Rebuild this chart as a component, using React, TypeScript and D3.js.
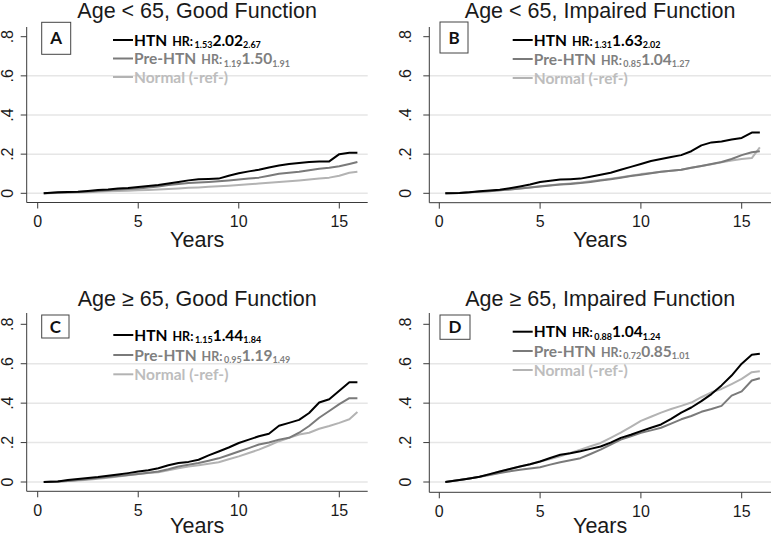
import React from 'react';
import * as d3 from 'd3';

// ---------- data ----------
const YEARS = [0.3, 1, 1.5, 2, 2.5, 3, 3.5, 4, 4.5, 5, 5.5, 6, 6.5, 7, 7.5, 8, 8.5, 9, 9.5, 10, 10.5, 11, 11.5, 12, 12.5, 13, 13.5, 14, 14.5, 15, 15.5, 15.9];
const X_TICKS = [0, 5, 10, 15];
const Y_TICKS = [0, 0.2, 0.4, 0.6, 0.8];
const Y_TICK_LABELS = ['0', '.2', '.4', '.6', '.8'];
const GRID_VALUES = [0, 0.2, 0.4, 0.6];
const GROUPS = ['HTN', 'Pre-HTN', 'Normal (-ref-)'];
const TITLES = ['Age < 65, Good Function', 'Age < 65, Impaired Function', 'Age \u2265 65, Good Function', 'Age \u2265 65, Impaired Function'];
const LETTERS = ['A', 'B', 'C', 'D'];

// hazard ratios [lower, estimate, upper]
const HR_A_HTN = ['1.53', '2.02', '2.67'];
const HR_A_PRE = ['1.19', '1.50', '1.91'];
const HR_B_HTN = ['1.31', '1.63', '2.02'];
const HR_B_PRE = ['0.85', '1.04', '1.27'];
const HR_C_HTN = ['1.15', '1.44', '1.84'];
const HR_C_PRE = ['0.95', '1.19', '1.49'];
const HR_D_HTN = ['0.88', '1.04', '1.24'];
const HR_D_PRE = ['0.72', '0.85', '1.01'];

// cumulative incidence
const A_HTN = [0, 0.005, 0.007, 0.008, 0.012, 0.017, 0.02, 0.025, 0.027, 0.032, 0.037, 0.042, 0.05, 0.058, 0.066, 0.072, 0.073, 0.075, 0.09, 0.102, 0.112, 0.12, 0.132, 0.142, 0.15, 0.155, 0.16, 0.163, 0.163, 0.2, 0.207, 0.207];
const A_PRE = [0, 0.003, 0.005, 0.007, 0.009, 0.012, 0.016, 0.02, 0.022, 0.025, 0.03, 0.035, 0.042, 0.048, 0.052, 0.055, 0.058, 0.062, 0.066, 0.07, 0.075, 0.08, 0.09, 0.1, 0.105, 0.11, 0.118, 0.125, 0.13, 0.138, 0.15, 0.16];
const A_NORM = [0, 0.002, 0.003, 0.004, 0.006, 0.008, 0.01, 0.012, 0.013, 0.015, 0.017, 0.02, 0.022, 0.025, 0.028, 0.03, 0.033, 0.036, 0.039, 0.042, 0.046, 0.05, 0.054, 0.058, 0.061, 0.065, 0.07, 0.075, 0.08, 0.09, 0.105, 0.11];

const B_HTN = [0, 0.002, 0.005, 0.01, 0.014, 0.018, 0.026, 0.035, 0.045, 0.058, 0.064, 0.07, 0.072, 0.075, 0.085, 0.095, 0.105, 0.12, 0.135, 0.15, 0.165, 0.175, 0.185, 0.195, 0.215, 0.245, 0.26, 0.265, 0.275, 0.283, 0.31, 0.31];
const B_PRE = [0, 0.002, 0.005, 0.008, 0.011, 0.015, 0.02, 0.025, 0.03, 0.035, 0.04, 0.045, 0.048, 0.052, 0.058, 0.065, 0.072, 0.08, 0.088, 0.095, 0.102, 0.11, 0.115, 0.12, 0.13, 0.14, 0.15, 0.16, 0.175, 0.195, 0.21, 0.215];
const B_NORM = [0, 0.002, 0.005, 0.008, 0.012, 0.016, 0.02, 0.025, 0.03, 0.036, 0.041, 0.046, 0.05, 0.055, 0.062, 0.068, 0.075, 0.082, 0.09, 0.098, 0.104, 0.11, 0.115, 0.12, 0.13, 0.14, 0.148, 0.158, 0.168, 0.175, 0.18, 0.235];

const C_HTN = [0, 0.003, 0.01, 0.015, 0.02, 0.025, 0.032, 0.038, 0.045, 0.053, 0.06, 0.07, 0.085, 0.096, 0.102, 0.113, 0.135, 0.155, 0.175, 0.198, 0.215, 0.232, 0.245, 0.285, 0.3, 0.315, 0.35, 0.403, 0.42, 0.463, 0.506, 0.506];
const C_PRE = [0, 0.002, 0.005, 0.01, 0.015, 0.02, 0.025, 0.03, 0.035, 0.041, 0.047, 0.053, 0.065, 0.079, 0.087, 0.096, 0.108, 0.12, 0.137, 0.155, 0.172, 0.19, 0.2, 0.215, 0.224, 0.25, 0.284, 0.326, 0.36, 0.395, 0.425, 0.425];
const C_NORM = [0, 0.002, 0.005, 0.008, 0.012, 0.017, 0.022, 0.028, 0.034, 0.04, 0.045, 0.05, 0.06, 0.07, 0.078, 0.085, 0.092, 0.1, 0.115, 0.13, 0.147, 0.164, 0.185, 0.207, 0.224, 0.241, 0.25, 0.27, 0.284, 0.3, 0.318, 0.355];

const D_HTN = [0, 0.01, 0.018, 0.027, 0.04, 0.053, 0.066, 0.079, 0.09, 0.104, 0.122, 0.138, 0.146, 0.156, 0.168, 0.18, 0.2, 0.224, 0.24, 0.258, 0.275, 0.292, 0.32, 0.352, 0.378, 0.41, 0.446, 0.49, 0.54, 0.6, 0.645, 0.651];
const D_PRE = [0, 0.01, 0.018, 0.027, 0.036, 0.045, 0.054, 0.062, 0.068, 0.075, 0.088, 0.1, 0.11, 0.121, 0.142, 0.164, 0.19, 0.215, 0.232, 0.25, 0.262, 0.275, 0.296, 0.318, 0.335, 0.356, 0.37, 0.386, 0.438, 0.46, 0.515, 0.526];
const D_NORM = [0, 0.01, 0.018, 0.027, 0.04, 0.053, 0.066, 0.079, 0.09, 0.104, 0.117, 0.13, 0.147, 0.164, 0.181, 0.198, 0.224, 0.25, 0.28, 0.31, 0.331, 0.352, 0.37, 0.386, 0.403, 0.43, 0.455, 0.472, 0.497, 0.523, 0.557, 0.562];

const SERIES = [
  [A_HTN, A_PRE, A_NORM],
  [B_HTN, B_PRE, B_NORM],
  [C_HTN, C_PRE, C_NORM],
  [D_HTN, D_PRE, D_NORM],
];
const HRS = [
  [HR_A_HTN, HR_A_PRE],
  [HR_B_HTN, HR_B_PRE],
  [HR_C_HTN, HR_C_PRE],
  [HR_D_HTN, HR_D_PRE],
];

// ---------- styling / layout ----------
const LINE_COLORS = ['#000000', '#7a7a7a', '#b3b3b3'];
const TEXT_COLORS = ['#000000', '#7f7f7f', '#bdbdbd'];
const AXIS_COLOR = '#3a3a3a';
const GRID_COLOR = '#e6e6e6';
const SANS = '"Liberation Sans", Arial, sans-serif';
const LEG_FONT = 'Lato, "Open Sans", sans-serif';

const LAYOUT = [
  { x0: 37.7, x15: 339.3, y0: 193.3, y8: 36.7, axL: 26.7, axB: 202.5, axT: 27, axR: 367.7, titleY: 17.5, box: [41.7, 22.3, 29, 32], legX: 113, legRows: [40, 58.5, 77], yLabX: 12.7 },
  { x0: 439.3, x15: 741.7, y0: 193.3, y8: 36.7, axL: 429.3, axB: 202.7, axT: 27, axR: 771, titleY: 17.5, box: [440, 22, 28, 31], legX: 512.7, legRows: [40, 59, 78], yLabX: 411 },
  { x0: 37.7, x15: 339.3, y0: 482, y8: 324.3, axL: 26.7, axB: 491.3, axT: 313, axR: 367.7, titleY: 306, box: [41.7, 315, 27.3, 23], legX: 113.3, legRows: [335, 355, 374.3], yLabX: 12.7 },
  { x0: 439.3, x15: 741.7, y0: 482, y8: 324.3, axL: 429.3, axB: 492.3, axT: 313, axR: 771, titleY: 306, box: [440, 315, 30, 24.3], legX: 512.7, legRows: [331.7, 351, 370], yLabX: 411 },
];

function Panel({ idx }: { idx: number }) {
  const L = LAYOUT[idx];
  const x = d3.scaleLinear().domain([0, 15]).range([L.x0, L.x15]);
  const y = d3.scaleLinear().domain([0, 0.8]).range([L.y0, L.y8]);
  const line = d3
    .line<number>()
    .x((_, i) => x(YEARS[i]))
    .y((d) => y(d))
    .curve(d3.curveLinear);
  const cx = (L.axL + L.axR) / 2;
  const series = SERIES[idx];
  const order = [2, 1, 0];
  const [bx, by, bw, bh] = L.box;
  return (
    <g>
      {GRID_VALUES.map((g) => (
        <line key={'g' + g} x1={L.axL} x2={L.axR} y1={y(g)} y2={y(g)} stroke={GRID_COLOR} strokeWidth={1.5} />
      ))}
      {order.map((k) => (
        <path key={'s' + k} d={line(series[k]) || ''} fill="none" stroke={LINE_COLORS[k]} strokeWidth={2} strokeLinejoin="round" />
      ))}
      {/* axes */}
      <line x1={L.axL} x2={L.axL} y1={L.axT} y2={L.axB} stroke={AXIS_COLOR} strokeWidth={1} />
      <line x1={L.axL} x2={L.axR} y1={L.axB} y2={L.axB} stroke={AXIS_COLOR} strokeWidth={1} />
      {Y_TICKS.map((t, i) => (
        <g key={'yt' + t}>
          <line x1={L.axL - 6} x2={L.axL} y1={y(t)} y2={y(t)} stroke={AXIS_COLOR} strokeWidth={1} />
          <text
            transform={`translate(${L.yLabX},${y(t)}) rotate(-90)`}
            textAnchor="middle"
            fontFamily={SANS}
            fontSize={16}
            fill="#1a1a1a"
          >
            {Y_TICK_LABELS[i]}
          </text>
        </g>
      ))}
      {X_TICKS.map((t) => (
        <g key={'xt' + t}>
          <line x1={x(t)} x2={x(t)} y1={L.axB} y2={L.axB + 6} stroke={AXIS_COLOR} strokeWidth={1} />
          <text x={x(t)} y={L.axB + 24.5} textAnchor="middle" fontFamily={SANS} fontSize={16} fill="#1a1a1a">
            {t}
          </text>
        </g>
      ))}
      <text x={cx} y={Math.min(L.axB + 44.5, 533)} textAnchor="middle" fontFamily={SANS} fontSize={21.5} fill="#1a1a1a">
        Years
      </text>
      <text x={cx} y={L.titleY} textAnchor="middle" fontFamily={SANS} fontSize={21.5} fill="#1a1a1a">
        {TITLES[idx]}
      </text>
      {/* panel letter */}
      <rect x={bx} y={by} width={bw} height={bh} fill="#ffffff" stroke="#444" strokeWidth={1} />
      <text x={bx + bw / 2} y={by + bh / 2 + 6} textAnchor="middle" fontFamily={LEG_FONT} fontWeight="bold" fontSize={17} fill="#111">
        {LETTERS[idx]}
      </text>
      {/* legend */}
      {GROUPS.map((g, k) => {
        const ry = L.legRows[k];
        const hr = k < 2 ? HRS[idx][k] : null;
        return (
          <g key={'l' + k}>
            <line x1={L.legX} x2={L.legX + 20} y1={ry} y2={ry} stroke={LINE_COLORS[k]} strokeWidth={2} />
            <text x={L.legX + 21} y={ry + 5.5} fontFamily={LEG_FONT} fontWeight="bold" fill={TEXT_COLORS[k]} fontSize={15.5}>
              <tspan>{g}</tspan>
              {hr && (
                <>
                  <tspan fontSize={12.5} dx={5}>HR:</tspan>
                  <tspan fontSize={9} dx={1.5} dy={2.5}>{hr[0]}</tspan>
                  <tspan fontSize={15.5} dy={-2.5}>{hr[1]}</tspan>
                  <tspan fontSize={9} dy={2.5}>{hr[2]}</tspan>
                </>
              )}
            </text>
          </g>
        );
      })}
    </g>
  );
}

export default function App() {
  return (
    <svg
      width={771}
      height={537}
      style={{ position: 'absolute', left: 0, top: 0, background: '#ffffff' }}
      xmlns="http://www.w3.org/2000/svg"
    >
      <rect x={0} y={0} width={771} height={537} fill="#ffffff" />
      {LAYOUT.map((_, i) => (
        <Panel key={i} idx={i} />
      ))}
    </svg>
  );
}
